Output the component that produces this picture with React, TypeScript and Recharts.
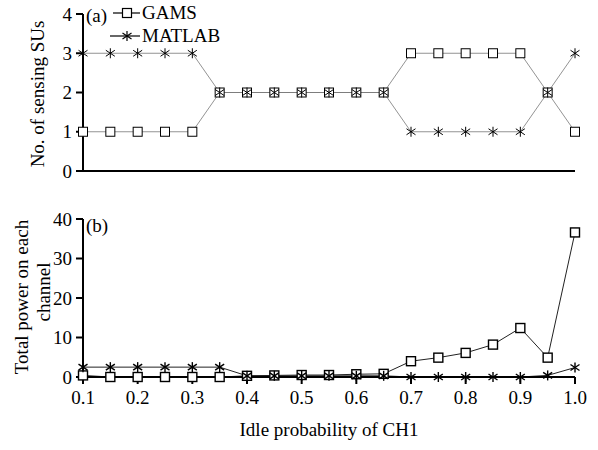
import { LineChart, Line, XAxis, YAxis, Legend, Label } from "recharts";

const FONT = "Liberation Serif, Times New Roman, serif";

const PROB = [0.1, 0.15, 0.2, 0.25, 0.3, 0.35, 0.4, 0.45, 0.5, 0.55, 0.6, 0.65, 0.7, 0.75, 0.8, 0.85, 0.9, 0.95, 1.0];
const SU_GAMS = [1, 1, 1, 1, 1, 2, 2, 2, 2, 2, 2, 2, 3, 3, 3, 3, 3, 2, 1];
const SU_MATLAB = [3, 3, 3, 3, 3, 2, 2, 2, 2, 2, 2, 2, 1, 1, 1, 1, 1, 2, 3];
const POW_GAMS = [0.4, 0, 0, 0, 0, 0, 0.3, 0.4, 0.5, 0.5, 0.7, 0.8, 4.0, 4.9, 6.1, 8.2, 12.4, 4.9, 36.6];
const POW_MATLAB = [2.5, 2.5, 2.5, 2.5, 2.5, 2.5, 0.3, 0.3, 0.3, 0.3, 0.3, 0.3, 0, 0, 0, 0, 0, 0.4, 2.4];

const X_TICKS = [0.1, 0.2, 0.3, 0.4, 0.5, 0.6, 0.7, 0.8, 0.9, 1.0];
const SU_TICKS = [0, 1, 2, 3, 4];
const POW_TICKS = [0, 10, 20, 30, 40];

const suData = PROB.map((p, i) => ({ p, gams: SU_GAMS[i], matlab: SU_MATLAB[i] }));
const powData = PROB.map((p, i) => ({ p, gams: POW_GAMS[i], matlab: POW_MATLAB[i] }));

function SquareDot(props: any) {
  const { cx, cy, sw = 1.2 } = props;
  if (cx == null || cy == null) return null;
  return <rect x={cx - 4.5} y={cy - 4.5} width={9} height={9} fill="#fff" stroke="#000" strokeWidth={sw} />;
}

function StarDot(props: any) {
  const { cx, cy, sw = 1.2 } = props;
  if (cx == null || cy == null) return null;
  return (
    <g stroke="#000" strokeWidth={sw}>
      <line x1={cx} y1={cy - 5} x2={cx} y2={cy + 5} />
      <line x1={cx - 4.5} y1={cy - 3} x2={cx + 4.5} y2={cy + 3} />
      <line x1={cx - 4.5} y1={cy + 3} x2={cx + 4.5} y2={cy - 3} />
    </g>
  );
}

function LegendBox() {
  return (
    <svg width={130} height={48} fontFamily={FONT} style={{ display: "block" }}>
      <line x1={5} y1={13} x2={32} y2={13} stroke="#000" strokeWidth={1.2} />
      <SquareDot cx={19} cy={13} />
      <text x={34} y={19} fontSize={19} fill="#000" fontFamily={FONT}>GAMS</text>
      <line x1={2} y1={36} x2={32} y2={36} stroke="#000" strokeWidth={1.2} />
      <StarDot cx={19} cy={36} />
      <text x={34} y={42} fontSize={19} fill="#000" fontFamily={FONT}>MATLAB</text>
    </svg>
  );
}

const axisProps = {
  stroke: "#000",
  strokeWidth: 2,
  tickSize: 7,
  tickLine: { stroke: "#000", strokeWidth: 2 },
};

const tickStyle = { fontSize: 19, fill: "#000", fontFamily: FONT };

export default function App() {
  return (
    <div style={{ position: "absolute", left: 0, top: 0, width: 598, height: 450, background: "#fff", fontFamily: FONT }}>
      <div style={{ position: "absolute", left: 0, top: 0 }}>
        <LineChart width={598} height={200} data={suData} margin={{ top: 14, right: 23, left: 0, bottom: 0 }} style={{ fontFamily: FONT }}>
          <XAxis
            dataKey="p"
            type="number"
            domain={[0.1, 1]}
            ticks={X_TICKS}
            tick={false}
            height={29}
            {...axisProps}
          />
          <YAxis
            domain={[0, 4]}
            ticks={SU_TICKS}
            width={83}
            tick={tickStyle}
            tickMargin={4}
            {...axisProps}
          >
            <Label
              content={() => (
                <g fontFamily={FONT}>
                  <text x={37} y={94} transform="rotate(-90 37 94)" textAnchor="middle" dominantBaseline="central" fontSize={19} fill="#000" fontFamily={FONT}>
                    No. of sensing SUs
                  </text>
                  <text x={86} y={22} fontSize={19} fill="#000" fontFamily={FONT}>(a)</text>
                </g>
              )}
            />
          </YAxis>
          <Legend
            layout="vertical"
            align="center"
            verticalAlign="middle"
            wrapperStyle={{ top: 0, left: 108, width: 130 }}
            content={() => <LegendBox />}
          />
          <Line
            dataKey="gams"
            name="GAMS"
            stroke="#777"
            strokeWidth={0.8}
            dot={(p: any) => <SquareDot key={`sg${p.index}`} cx={p.cx} cy={p.cy} sw={1} />}
            isAnimationActive={false}
          />
          <Line
            dataKey="matlab"
            name="MATLAB"
            stroke="#777"
            strokeWidth={0.8}
            dot={(p: any) => <StarDot key={`sm${p.index}`} cx={p.cx} cy={p.cy} sw={1} />}
            isAnimationActive={false}
          />
        </LineChart>
      </div>
      <div style={{ position: "absolute", left: 0, top: 200 }}>
        <LineChart width={598} height={250} data={powData} margin={{ top: 19, right: 23, left: 0, bottom: 0 }} style={{ fontFamily: FONT }}>
          <XAxis
            dataKey="p"
            type="number"
            domain={[0.1, 1]}
            ticks={X_TICKS}
            tickFormatter={(v: number) => v.toFixed(1)}
            tick={tickStyle}
            tickMargin={7}
            height={73}
            {...axisProps}
          >
            <Label
              content={() => (
                <text x={329} y={236} textAnchor="middle" fontSize={19} fill="#000" fontFamily={FONT}>
                  Idle probability of CH1
                </text>
              )}
            />
          </XAxis>
          <YAxis
            domain={[0, 40]}
            ticks={POW_TICKS}
            width={83}
            tick={tickStyle}
            tickMargin={4}
            {...axisProps}
          >
            <Label
              content={() => (
                <g fontFamily={FONT}>
                  <text x={21} y={97} transform="rotate(-90 21 97)" textAnchor="middle" dominantBaseline="central" fontSize={19} fill="#000" fontFamily={FONT}>
                    Total power on each
                  </text>
                  <text x={43} y={92} transform="rotate(-90 43 92)" textAnchor="middle" dominantBaseline="central" fontSize={19} fill="#000" fontFamily={FONT}>
                    channel
                  </text>
                  <text x={86} y={32} fontSize={19} fill="#000" fontFamily={FONT}>(b)</text>
                </g>
              )}
            />
          </YAxis>
          <Line
            dataKey="gams"
            name="GAMS"
            stroke="#222"
            strokeWidth={1}
            dot={(p: any) => <SquareDot key={`pg${p.index}`} cx={p.cx} cy={p.cy} sw={1.4} />}
            isAnimationActive={false}
          />
          <Line
            dataKey="matlab"
            name="MATLAB"
            stroke="#222"
            strokeWidth={1}
            dot={(p: any) => <StarDot key={`pm${p.index}`} cx={p.cx} cy={p.cy} sw={1.4} />}
            isAnimationActive={false}
          />
        </LineChart>
      </div>
    </div>
  );
}
